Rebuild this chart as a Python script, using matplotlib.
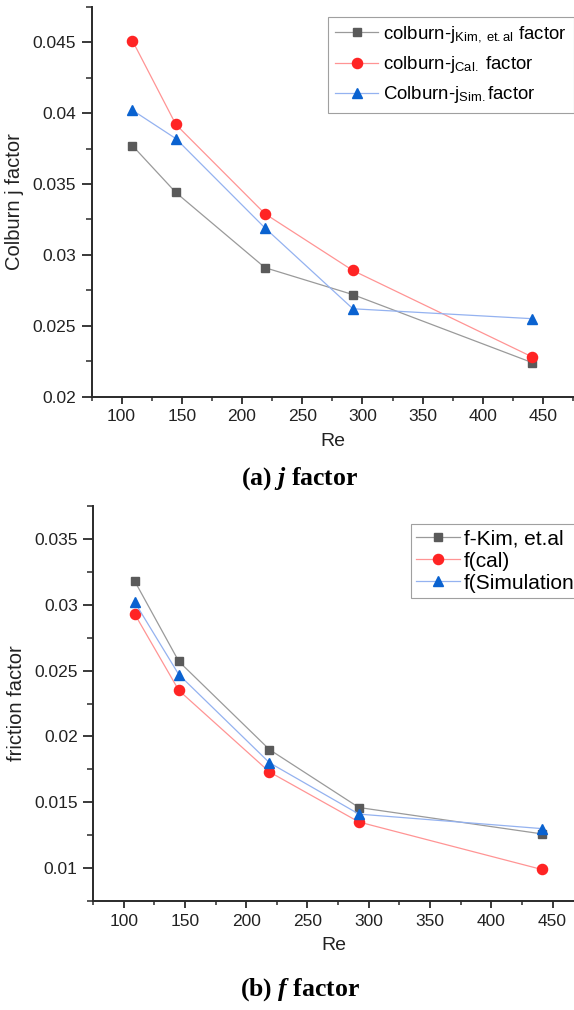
import matplotlib
matplotlib.use("Agg")
import matplotlib.pyplot as plt
from matplotlib.ticker import MultipleLocator, FuncFormatter

plt.rcParams['font.family'] = ['Liberation Sans', 'DejaVu Sans']
plt.rcParams['mathtext.fontset'] = 'custom'
plt.rcParams['mathtext.rm'] = 'Liberation Sans'
plt.rcParams['mathtext.it'] = 'Liberation Serif:italic:bold'

# ---- data ----
re_vals = [109, 145, 219, 292, 441]
j_kim = [0.0377, 0.0344, 0.0291, 0.0272, 0.0224]
j_cal = [0.0451, 0.0392, 0.0329, 0.0289, 0.0228]
j_sim = [0.0402, 0.0382, 0.0319, 0.0262, 0.0255]

f_kim = [0.0318, 0.0257, 0.0190, 0.0146, 0.0126]
f_cal = [0.0293, 0.0235, 0.0173, 0.0135, 0.0099]
f_sim = [0.0302, 0.0247, 0.0180, 0.0141, 0.0130]

j_labels = [r"colburn-j$_{\mathrm{Kim,\ et.al}}$ factor",
            r"colburn-j$_{\mathrm{Cal.}}$ factor",
            r"Colburn-j$_{\mathrm{Sim.}}$factor"]
f_labels = ["f-Kim, et.al", "f(cal)", "f(Simulation"]

W, H = 574, 1010
fig = plt.figure(figsize=(W / 100, H / 100), dpi=100)

styles = [
    dict(marker='s', color='#9a9a9a', mfc='#5a5a5a', mec='#5a5a5a', ms=6.3),
    dict(marker='o', color='#ff9494', mfc='#ff2424', mec='#ff2424', ms=7.3),
    dict(marker='^', color='#94b2f0', mfc='#0a62d0', mec='#0a62d0', ms=7.8),
]


def fmt(v, p):
    return f"{v:.3f}".rstrip('0').rstrip('.')


def style_axes(ax):
    for s in ['top', 'right']:
        ax.spines[s].set_visible(False)
    for s in ['left', 'bottom']:
        ax.spines[s].set_linewidth(1.4)
        ax.spines[s].set_color('#2a2a2a')
    ax.xaxis.set_major_locator(MultipleLocator(50))
    ax.xaxis.set_minor_locator(MultipleLocator(25))
    ax.yaxis.set_major_locator(MultipleLocator(0.005))
    ax.yaxis.set_minor_locator(MultipleLocator(0.0025))
    ax.tick_params(which='both', color='#2a2a2a', labelcolor='#222222')
    ax.tick_params(axis='y', which='major', direction='out', length=7, width=1.3, labelsize=12.5, pad=4)
    ax.tick_params(axis='y', which='minor', direction='out', length=4, width=1.1)
    ax.tick_params(axis='x', which='major', direction='out', length=5, width=1.3, labelsize=12.5, pad=4)
    ax.tick_params(axis='x', which='minor', direction='out', length=3, width=1.1)
    ax.yaxis.set_major_formatter(FuncFormatter(fmt))


# ---- top (j factor) ----
ax1 = fig.add_axes([91.5 / W, 1 - 396.7 / H, 1 - 91.5 / W, (396.7 - 6.7) / H])
for ys, lab, st in zip([j_kim, j_cal, j_sim], j_labels, styles):
    ax1.plot(re_vals, ys, lw=0.9, label=lab, **st)
ax1.set_xlim(75, 475.6)
ax1.set_ylim(0.02, 0.0475)
style_axes(ax1)
ax1.set_xlabel("Re", fontsize=14, labelpad=6, color='#222222')
ax1.set_ylabel("Colburn j factor", fontsize=14.5, labelpad=6, color='#222222')
leg1 = ax1.legend(loc='upper left', bbox_to_anchor=(0.49, 0.974), fontsize=13.4,
                  frameon=True, fancybox=False, edgecolor='#888888',
                  handlelength=2.3, handletextpad=0.25, borderpad=0.4, labelspacing=0.5,
                  borderaxespad=0)
leg1.get_frame().set_linewidth(0.8)

# ---- bottom (f factor) ----
ax2 = fig.add_axes([93 / W, 1 - 901 / H, 1 - 93 / W, (901 - 506) / H])
for ys, lab, st in zip([f_kim, f_cal, f_sim], f_labels, styles):
    ax2.plot(re_vals, ys, lw=0.9, label=lab, **st)
ax2.set_xlim(75, 467.5)
ax2.set_ylim(0.0075, 0.0375)
style_axes(ax2)
ax2.set_xlabel("Re", fontsize=14, labelpad=6, color='#222222')
ax2.set_ylabel("friction factor", fontsize=14.5, labelpad=6, color='#222222')
leg2 = ax2.legend(loc='upper left', bbox_to_anchor=(0.661, 0.954), fontsize=15,
                  frameon=True, fancybox=False, edgecolor='#888888',
                  handlelength=2.1, handletextpad=0.2, borderpad=0.25, labelspacing=0.15,
                  borderaxespad=0)
leg2.get_frame().set_linewidth(0.8)

# ---- captions ----
fig.text(300 / W, 1 - 479 / H, r"(a) $\mathit{j}$ factor", ha='center', va='center',
         family='Liberation Serif', fontweight='bold', fontsize=18.5)
fig.text(300 / W, 1 - 990 / H, r"(b) $\mathit{f}$ factor", ha='center', va='center',
         family='Liberation Serif', fontweight='bold', fontsize=18.5)

fig.savefig("out.png", dpi=100)
